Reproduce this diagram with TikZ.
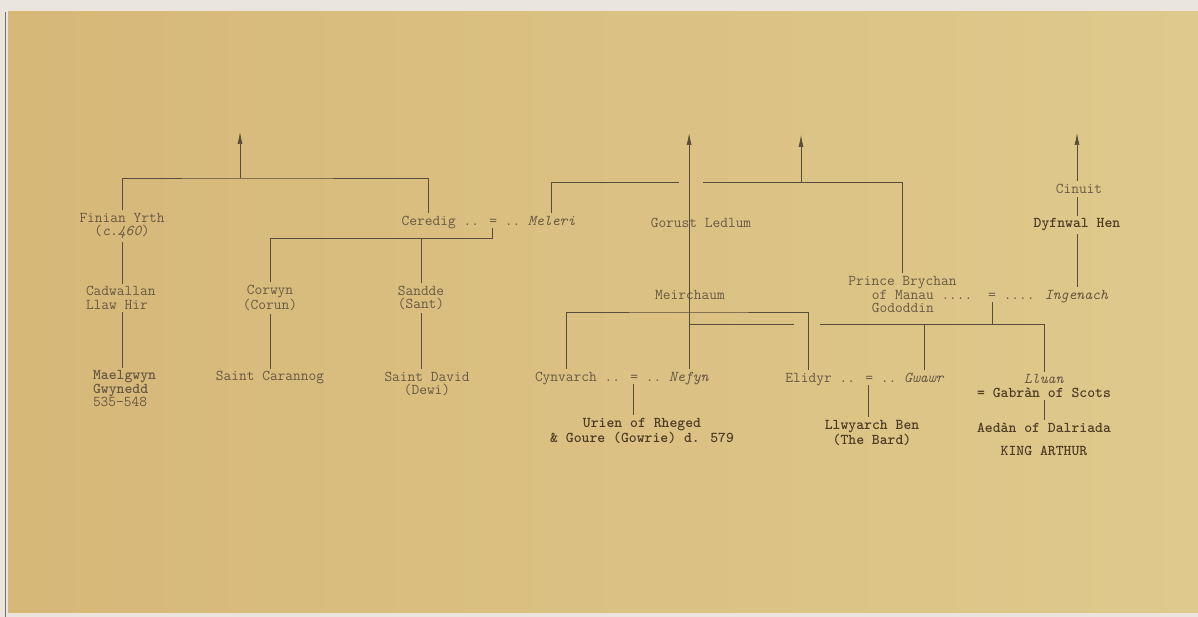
\documentclass[tikz,border=0pt]{standalone}
\usetikzlibrary{arrows.meta,positioning}
\definecolor{paperL}{RGB}{214,184,121}
\definecolor{paperR}{RGB}{223,201,140}
\definecolor{edgegrey}{RGB}{234,230,222}
\definecolor{ink}{RGB}{104,90,66}
\definecolor{inkdark}{RGB}{78,60,36}
\definecolor{lineink}{RGB}{88,76,58}
\newcommand{\famgap}{7.875pt}
\tikzset{
    person/.style={text=ink, font=\fontsize{15}{13.5}\selectfont\ttfamily,
        inner xsep=0pt, inner ysep=3pt, outer sep=0pt, align=center},
    bold person/.style={person, text=inkdark,
        font=\fontsize{15}{13.5}\selectfont\ttfamily\bfseries},
    famline/.style={draw=lineink, line width=0.7pt},
    uparrow/.style={famline, -{Latex[length=12pt,width=5pt]}}
}
\begin{document}
\begin{tikzpicture}[x=1pt, y=-1pt]
    \useasboundingbox (0,0) rectangle (1198,617);
    \fill[edgegrey] (0,0) rectangle (1198,617);
    \shade[left color=paperL, right color=paperR] (8,12) rectangle (1198,612);
    \draw[lineink!80, line width=1pt] (5,12) -- (5,617);

    \node[person] (finian) at (122,226) {Finian Yrth\\(\textit{c.460})};
    \node[person, anchor=west, align=left] (cadw) at (86,298) {Cadwallan\\Llaw Hir};
    \node[person, anchor=west, align=left] (mael) at (93,389)
        {\textbf{Maelgwyn}\\\textbf{Gwynedd}\\535-548};
    \node[person] (eqA) at (492,222) {.. = ..};
    \node[person, base left=\famgap of eqA] (cered) {Ceredig};
    \node[person, base right=\famgap of eqA] (meleri) {\textit{Meleri}};
    \node[person] (gorust) at (701,223) {Gorust Ledlum};
    \node[person] (corwyn) at (270,298) {Corwyn\\(Corun)};
    \node[person] (sandde) at (421,298) {Sandde\\(Sant)};
    \node[person] (carannog) at (270,378) {Saint Carannog};
    \node[person] (david) at (427,384) {Saint David\\(Dewi)};
    \node[person] (meirch) at (690,295) {Meirchaum};
    \node[person] (cinuit) at (1079,189) {Cinuit};
    \node[bold person] (dyfnwal) at (1077,225) {Dyfnwal Hen};
    \node[person] (eqB) at (992,296) {=};
    \node[person, base left=15.75pt of eqB] (manau) {of Manau ....};
    \node[person, base right=\famgap of eqB] (ingen) {.... \textit{Ingenach}};
    \node[person, anchor=base west] (brychan)
        at ([xshift=-23.6pt, yshift=13.5pt]manau.base west) {Prince Brychan};
    \node[person, anchor=base west] (gododdin)
        at ([yshift=-13pt]manau.base west) {Gododdin};
    \node[person] (eqC) at (633,378) {.. = ..};
    \node[person, base left=\famgap of eqC] (cynv) {Cynvarch};
    \node[person, base right=\famgap of eqC] (nefyn) {\textit{Nefyn}};
    \node[person] (eqD) at (868,379) {.. = ..};
    \node[person, base left=\famgap of eqD] (elidyr) {Elidyr};
    \node[person, base right=\famgap of eqD] (gwawr) {\textit{Gwawr}};
    \node[person] (lluan) at (1044,386) {\textit{Lluan}\\\textcolor{inkdark}{\textbf{= Gabràn of Scots}}};
    \node[bold person] (aedan) at (1044,428) {Aedàn of Dalriada};
    \node[bold person] (arthur) at (1044,451) {KING ARTHUR};
    \node[bold person] (urien) at (642,431) {Urien of Rheged\\\& Goure (Gowrie) d. 579};
    \node[bold person] (llwy) at (872,433) {Llwyarch Ben\\(The Bard)};

    \coordinate (upA) at (240,132);
    \coordinate (topA) at (240,178);
    \coordinate (barA) at (492,238);
    \coordinate (upB) at (690,133);
    \coordinate (upC) at (801,135);
    \coordinate (topC) at (801,182);
    \coordinate (gapL) at (679,182);
    \coordinate (gapR) at (703,182);
    \coordinate (upD) at (1077,133);
    \coordinate (barM) at (690,312);
    \coordinate (barB) at (992,324);
    \coordinate (hopL) at (794,324);
    \coordinate (hopR) at (820,324);

    \draw[uparrow] (topA) -- (upA);
    \draw[famline] (finian.north) |- (topA) -| (cered.north);
    \draw[famline] (finian.south) -- (finian.south |- cadw.north);
    \draw[famline] (finian.south |- cadw.south) -- (finian.south |- mael.north);
    \draw[famline] (eqA.south) -- (barA) -| (corwyn.north);
    \draw[famline] (barA -| sandde.north) -- (sandde.north);
    \draw[famline] (corwyn.south) -- (carannog.north);
    \draw[famline] (sandde.south) -- (sandde.south |- david.north);

    \draw[uparrow] (nefyn.north) -- (nefyn.north |- upB);
    \draw[uparrow] (topC) -- (upC);
    \draw[famline] (meleri.north) |- (gapL);
    \draw[famline] (gapR) -| (brychan.north);
    \draw[famline] (cynv.north) |- (barM) -| (elidyr.north);
    \draw[famline] (eqB.south) -- (barB);
    \draw[famline] (nefyn.north |- hopL) -- (hopL);
    \draw[famline] (hopR) -| (lluan.north);
    \draw[famline] (gwawr.north) -- (gwawr.north |- barB);
    \draw[famline] (eqC.south) -- (eqC.south |- urien.north);
    \draw[famline] (eqD.south) -- (eqD.south |- llwy.north);
    \draw[famline] (lluan.south) -- (aedan.north);

    \draw[uparrow] (dyfnwal.north |- cinuit.north) -- (upD);
    \draw[famline] (dyfnwal.north) -- (dyfnwal.north |- cinuit.south);
    \draw[famline] (dyfnwal.south) -- (dyfnwal.south |- ingen.north);
\end{tikzpicture}
\end{document}
